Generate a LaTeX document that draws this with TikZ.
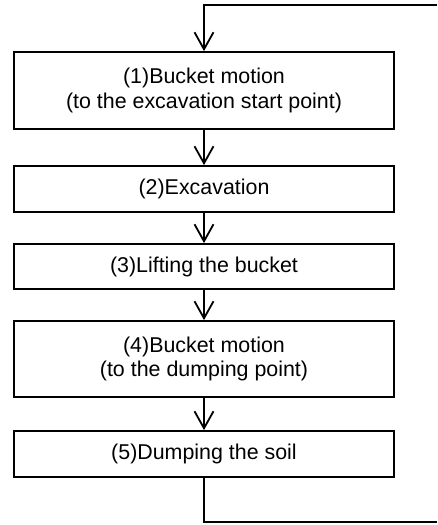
\documentclass[tikz,border=0pt]{standalone}
\usepackage{fontspec}
\setmainfont{Liberation Sans}
\usetikzlibrary{arrows.meta}
\begin{document}
\begin{tikzpicture}[x=1pt,y=-1pt,
  stepbox/.style={draw,line width=1.8pt,minimum width=380pt,inner sep=0pt,align=center,
    font=\fontsize{21.4}{24.5}\selectfont},
  flow/.style={line width=1.8pt,-{Straight Barb[length=17pt,width=19pt,line width=1.8pt]}},
  link/.style={line width=1.8pt}]
\useasboundingbox (0,0) rectangle (437,525);
\node[stepbox,minimum height=77pt] (b1) at (204,90.5) {(1)Bucket motion\\(to the excavation start point)};
\node[stepbox,minimum height=46pt] (b2) at (204,189) {(2)Excavation};
\node[stepbox,minimum height=45pt] (b3) at (204,266.5) {(3)Lifting the bucket};
\node[stepbox,minimum height=76pt] (b4) at (204,359) {(4)Bucket motion\\(to the dumping point)};
\node[stepbox,minimum height=46pt] (b5) at (204,454) {(5)Dumping the soil};
\coordinate (tr) at (437,5);
\coordinate (tl) at (204,5);
\coordinate (bl) at (204,522);
\coordinate (br) at (437,522);
\draw[flow] (tr) -- (tl) -- (b1.north);
\draw[flow] (b1) -- (b2);
\draw[flow] (b2) -- (b3);
\draw[flow] (b3) -- (b4);
\draw[flow] (b4) -- (b5);
\draw[link] (b5.south) -- (bl) -- (br);
\end{tikzpicture}
\end{document}
